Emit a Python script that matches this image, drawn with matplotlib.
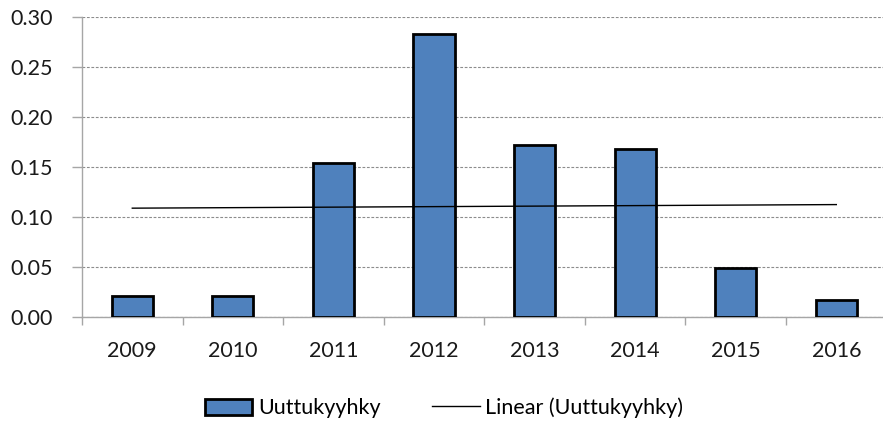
import matplotlib
matplotlib.use("Agg")
import matplotlib.pyplot as plt
import numpy as np
from matplotlib.ticker import FixedLocator

years = ["2009", "2010", "2011", "2012", "2013", "2014", "2015", "2016"]
values = [0.021, 0.021, 0.154, 0.283, 0.172, 0.168, 0.049, 0.017]
yticks = [0.00, 0.05, 0.10, 0.15, 0.20, 0.25, 0.30]
series_name = "Uuttukyyhky"

plt.rcParams['font.family'] = ['Lato', 'DejaVu Sans']

W, H = 883, 426
fig = plt.figure(figsize=(W / 100, H / 100), dpi=100)
left, right, top, bottom = 82, 886.6, 17, 317
ax = fig.add_axes([left / W, (H - bottom) / H, (right - left) / W, (bottom - top) / H])

x = np.arange(len(years))
bars = ax.bar(x, values, width=0.41, color="#4F81BD", edgecolor="black", linewidth=2.0,
              label=series_name, zorder=3)

coef = np.polyfit(x + 1, values, 1)
trend = np.polyval(coef, x + 1)
line, = ax.plot(x, trend, color="black", linewidth=1.0, label="Linear (" + series_name + ")", zorder=4)

fs = 15.5
ax.set_xlim(-0.5, len(years) - 0.5)
ax.set_ylim(0, 0.30)
ax.set_yticks(yticks)
ax.set_yticklabels([f"{v:.2f}" for v in yticks])
ax.set_xticks(x)
ax.set_xticklabels(years)
ax.xaxis.set_minor_locator(FixedLocator(np.arange(-0.5, len(years), 1.0)))
ax.tick_params(axis='x', which='major', length=0, pad=17, labelsize=fs, labelcolor="#1a1a1a")
ax.tick_params(axis='x', which='minor', length=6, width=1, color="#a6a6a6", direction='out')
ax.tick_params(axis='y', length=7, width=1, color="#a6a6a6", pad=14, labelsize=fs, labelcolor="#1a1a1a")

ax.grid(axis='y', color="#8c8c8c", linestyle=(0, (2.5, 1.5)), linewidth=0.8, zorder=0)
for s in ["top", "right"]:
    ax.spines[s].set_visible(False)
for s in ["left", "bottom"]:
    ax.spines[s].set_color("#a6a6a6")
    ax.spines[s].set_linewidth(1.0)

leg = fig.legend(handles=[bars, line], loc="center", bbox_to_anchor=(444 / W, 1 - 408 / H),
                 ncol=2, frameon=False, fontsize=fs, handlelength=2.2, handleheight=0.8,
                 handletextpad=0.25, columnspacing=2.4)

fig.savefig("out.png", dpi=100)
